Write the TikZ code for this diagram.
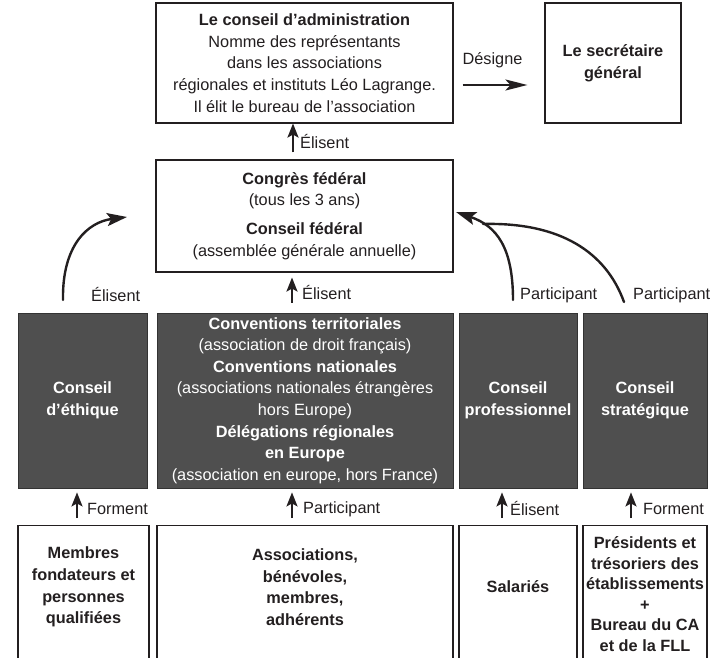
\documentclass[tikz,border=0pt]{standalone}
\usepackage{fontspec}
\setmainfont{Liberation Sans}
\usetikzlibrary{arrows.meta}
\definecolor{dk}{HTML}{4F4F4F}
\definecolor{ln}{HTML}{231F20}
\newcommand\fsz{\fontsize{16.3}{21.6}\selectfont}
\begin{document}
\begin{tikzpicture}[x=1pt,y=-1pt,
  every node/.style={font=\fsz, text=ln},
  wbox/.style={draw=ln, line width=1.1pt, fill=white, inner sep=0pt, align=center},
  dbox/.style={draw=black!80, line width=0.8pt, fill=dk, inner sep=0pt, align=center, text=white},
  txt/.style={align=center, inner sep=0pt},
  lbl/.style={anchor=west, inner sep=0pt},
  sarr/.style={-{Stealth[length=14pt,width=11pt,inset=3pt]}, line width=2.2pt, draw=ln},
  darr/.style={-{Stealth[length=22pt,width=11pt,inset=5pt]}, line width=2.4pt, draw=ln},
  carr/.style={-{Stealth[length=20pt,width=13pt,inset=4pt]}, line width=2.4pt, draw=ln, line cap=round},
  cline/.style={line width=2.4pt, draw=ln, line cap=round},
]
\useasboundingbox (0,0) rectangle (723,658);
\clip (0,0) rectangle (723,658);

% top row
\node[wbox, minimum width=297pt, minimum height=120pt] (ca) at (304.5,63)
  {\textbf{Le conseil d’administration}\\Nomme des représentants\\dans les associations\\régionales et instituts Léo Lagrange.\\Il élit le bureau de l’association};
\node[wbox, minimum width=136pt, minimum height=120pt] (sg) at (613,63)
  {\textbf{Le secrétaire}\\\textbf{général}};
\node[txt] (des) at (492.5,60) {Désigne};
\coordinate (dy) at (0,85);
\draw[darr, shorten <=9pt, shorten >=17pt] (ca.east |- dy) -- (sg.west |- dy);

% congres
\node[wbox, minimum width=297pt, minimum height=112pt] (cong) at (304.5,216)
  {\textbf{Congrès fédéral}\\(tous les 3 ans)\\[7pt]\textbf{Conseil fédéral}\\(assemblée générale annuelle)};
\coordinate (ax) at (293,0);
\draw[sarr, shorten <=7pt] (cong.north -| ax) -- (ca.south -| ax);
\node[lbl] (l1) at (300,142) {Élisent};

% dark row
\node[dbox, minimum width=129pt, minimum height=175pt] (eth) at (82.5,400.5)
  {\textbf{Conseil}\\\textbf{d’éthique}};
\node[dbox, minimum width=296pt, minimum height=175pt] (conv) at (305,400.5)
  {\textbf{Conventions territoriales}\\(association de droit français)\\\textbf{Conventions nationales}\\(associations nationales étrangères\\hors Europe)\\\textbf{Délégations régionales}\\\textbf{en Europe}\\(association en europe, hors France)};
\node[dbox, minimum width=118pt, minimum height=175pt] (prof) at (518,400.5)
  {\textbf{Conseil}\\\textbf{professionnel}};
\node[dbox, minimum width=124pt, minimum height=175pt] (strat) at (645,400.5)
  {\textbf{Conseil}\\\textbf{stratégique}};

\coordinate (bx) at (292,0);
\draw[sarr, shorten <=10pt, shorten >=5pt] (conv.north -| bx) -- (cong.south -| bx);
\node[lbl] (l2) at (302,293) {Élisent};

% curved arrows
\coordinate (c1s) at (63,300);
\coordinate (c1e) at (127,217);
\draw[carr] (c1s) .. controls (62,245) and (88,222) .. (c1e);
\node[lbl] (l3) at (91,295) {Élisent};

\coordinate (c2s) at (513,300);
\coordinate (c2e) at (456,212);
\draw[carr] (c2s) .. controls (513,248) and (497,226) .. (c2e);
\node[lbl] (l4) at (520,295) {Participant};

\coordinate (c3s) at (624,302);
\coordinate (jn) at (483,224);
\draw[cline] (c3s) .. controls (606,252) and (560,222) .. (jn);
\node[lbl] (l5) at (633,295) {Participant};

% bottom row
\node[wbox, minimum width=131pt, minimum height=170pt, anchor=north] (b1) at (83.5,525) {};
\node[wbox, minimum width=296pt, minimum height=170pt, anchor=north] (b2) at (305,525) {};
\node[wbox, minimum width=118pt, minimum height=170pt, anchor=north] (b3) at (518,525) {};
\node[wbox, minimum width=124pt, minimum height=170pt, anchor=north] (b4) at (645,525) {};

\node[txt] (t1) at (83.5,587) {\textbf{Membres}\\\textbf{fondateurs et}\\\textbf{personnes}\\\textbf{qualifiées}};
\node[txt] (t2) at (305,587) {\textbf{Associations,}\\\textbf{bénévoles,}\\\textbf{membres,}\\\textbf{adhérents}};
\node[txt] (t3) at (518,587) {\textbf{Salariés}};
\node[txt, font={\fontsize{16.3}{20.6}\selectfont}] (t4) at (645,594) {\textbf{Présidents et}\\\textbf{trésoriers des}\\\textbf{établissements}\\\textbf{+}\\\textbf{Bureau du CA}\\\textbf{et de la FLL}};

\coordinate (x1) at (77,0);
\coordinate (x2) at (292,0);
\coordinate (x3) at (502,0);
\coordinate (x4) at (631,0);
\draw[sarr, shorten <=7pt, shorten >=4pt] (b1.north -| x1) -- (eth.south -| x1);
\draw[sarr, shorten <=7pt, shorten >=4pt] (b2.north -| x2) -- (conv.south -| x2);
\draw[sarr, shorten <=7pt, shorten >=4pt] (b3.north -| x3) -- (prof.south -| x3);
\draw[sarr, shorten <=7pt, shorten >=4pt] (b4.north -| x4) -- (strat.south -| x4);
\node[lbl] (f1) at (87,509) {Forment};
\node[lbl] (f2) at (303,509) {Participant};
\node[lbl] (f3) at (510,509) {Élisent};
\node[lbl] (f4) at (643,509) {Forment};
\end{tikzpicture}
\end{document}
